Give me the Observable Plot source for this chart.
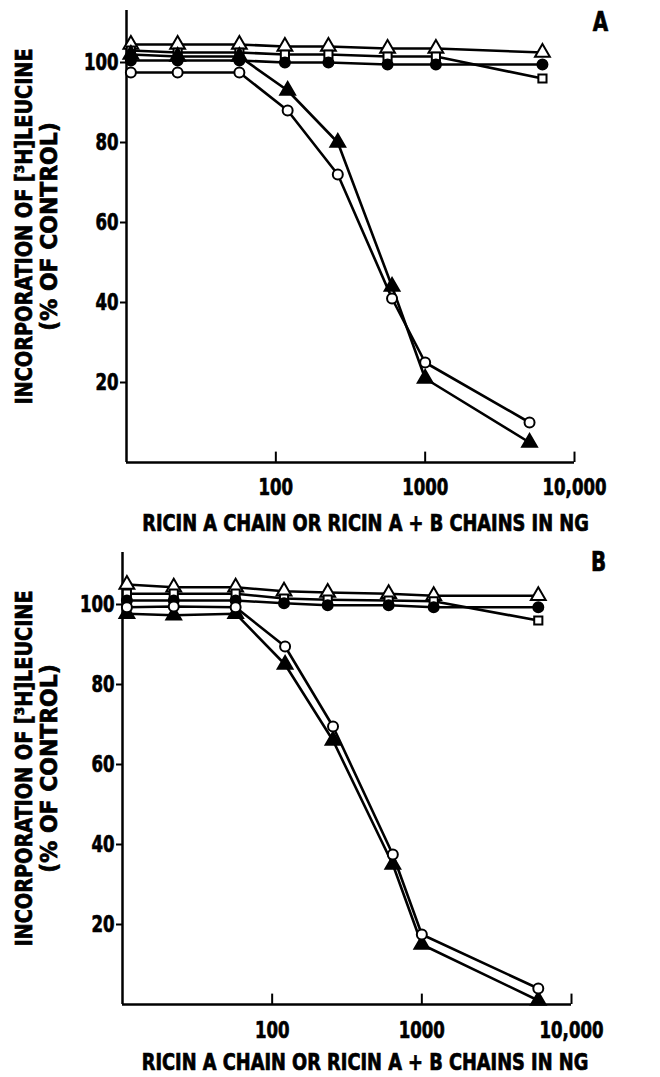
<!DOCTYPE html>
<html><head><meta charset="utf-8">
<script src="https://cdn.jsdelivr.net/npm/d3@7"></script>
<script src="https://cdn.jsdelivr.net/npm/@observablehq/plot@0.6"></script>
<style>
body{margin:0;background:#fff;}
#chart{width:660px;}
svg{display:block}
</style></head><body><div id="chart"></div>
<script>
// Tick labels and titles
const xTicks = [100, 1000, 10000];
const xTickLabels = ["100", "1000", "10,000"];
const yTicks = [20, 40, 60, 80, 100];
const xTitle = "RICIN A CHAIN OR RICIN A + B CHAINS IN NG";
const yTitle1 = "INCORPORATION OF [³H]LEUCINE";
const yTitle2 = "(% OF CONTROL)";
const panelNames = ["A", "B"];

// Panel A doses (ng) as plotted
const doseFlatA  = [10.7, 22, 57, 115, 225, 560, 1180, 6100];
const doseCurveA = [10.7, 22, 57, 120, 260, 600, 1000, 5000];
// Panel A values (% of control)
const openTriA    = [104.5, 104.5, 104.5, 104, 104, 103.5, 103.5, 102.5];
const openSqA     = [103, 102.5, 102.5, 102, 102, 101.5, 101.5, 96];
const filledCircA = [100.5, 100.5, 100.5, 100, 100, 99.5, 99.5, 99.5];
const filledTriA  = [102, 101.5, 101.5, 93, 80, 44, 21, 5];
const openCircA   = [97.5, 97.5, 97.5, 88, 72, 41, 25, 10];

// Panel B doses (ng) as plotted
const doseFlatB  = [10.7, 22, 57, 120, 235, 600, 1200, 6000];
const doseCurveB = [10.7, 22, 57, 122, 255, 640, 1000, 6000];
// Panel B values (% of control)
const openTriB    = [105, 104.3, 104.3, 103.3, 103, 102.7, 102.2, 102.2];
const openSqB     = [102.7, 102.7, 102.7, 101.5, 101.2, 101, 100.8, 96];
const filledCircB = [101, 101, 101, 100.3, 99.8, 99.8, 99.3, 99.3];
const openCircB   = [99.3, 99.5, 99.3, 89.5, 69.5, 37.5, 17.5, 4];
const filledTriB  = [97.7, 97.3, 97.7, 85, 66, 35, 15, 1];

const seriesStyle = {
  openTri:    {symbol: "triangle", fill: "white", r: 5.5},
  openSq:     {symbol: "square",   fill: "white", r: 4.6},
  filledCirc: {symbol: "circle",   fill: "black", r: 5},
  filledTri:  {symbol: "triangle", fill: "black", r: 5.5},
  openCirc:   {symbol: "circle",   fill: "white", r: 5}
};

function rowsFor(doses, vals, key) {
  return doses.map((d, i) => ({x: d, y: vals[i], s: key}));
}

const dataA = [
  ...rowsFor(doseFlatA, openTriA, "openTri"),
  ...rowsFor(doseFlatA, openSqA, "openSq"),
  ...rowsFor(doseFlatA, filledCircA, "filledCirc"),
  ...rowsFor(doseCurveA, filledTriA, "filledTri"),
  ...rowsFor(doseCurveA, openCircA, "openCirc")
];
const dataB = [
  ...rowsFor(doseFlatB, openTriB, "openTri"),
  ...rowsFor(doseFlatB, openSqB, "openSq"),
  ...rowsFor(doseFlatB, filledCircB, "filledCirc"),
  ...rowsFor(doseCurveB, filledTriB, "filledTri"),
  ...rowsFor(doseCurveB, openCircB, "openCirc")
];

const FONT = "'DejaVu Sans Condensed', 'DejaVu Sans', sans-serif";

function panel(name, data, o) {
  const dotMarks = Object.entries(seriesStyle).map(([key, st]) =>
    Plot.dot(data.filter(d => d.s === key), {
      x: "x", y: "y", symbol: st.symbol, r: st.r,
      fill: st.fill, stroke: "black", strokeWidth: 2
    })
  );
  const tf = {fontWeight: "bold", fontFamily: FONT, fill: "black"};
  return Plot.plot({
    width: 660, height: o.H,
    marginTop: o.mt, marginBottom: o.mb, marginLeft: o.ml, marginRight: o.mr,
    x: {type: "log", domain: [10, 10000]},
    y: {domain: [0, 113]},
    style: {fontFamily: FONT, fontWeight: "bold", fontSize: "23px", color: "black", background: "white"},
    marks: [
      Plot.ruleY([0], {stroke: "black", strokeWidth: 2.5}),
      Plot.ruleX([10], {y1: 0, y2: 113, stroke: "black", strokeWidth: 2.5}),
      Plot.ruleX(xTicks, {y1: 0, y2: 2.6, stroke: "black", strokeWidth: 2}),
      Plot.axisX({ticks: xTicks, tickFormat: d => xTickLabels[xTicks.indexOf(d)], tickSize: 0, tickPadding: o.xpad, label: null,
        fontSize: 23, ...tf}),
      Plot.axisY({ticks: yTicks, tickSize: 6, tickPadding: 2, label: null, strokeWidth: 2,
        fontSize: 23, ...tf}),
      Plot.text([xTitle], {frameAnchor: "bottom", lineAnchor: "middle", textAnchor: "middle", dx: o.tdx, dy: o.tdy,
        fontSize: 23, ...tf}),
      Plot.text([yTitle1], {frameAnchor: "left", textAnchor: "middle", lineAnchor: "middle", rotate: -90, dx: o.y1dx, dy: o.ydy,
        fontSize: 23, ...tf}),
      Plot.text([yTitle2], {frameAnchor: "left", textAnchor: "middle", lineAnchor: "middle", rotate: -90, dx: o.y2dx, dy: o.ydy,
        fontSize: 23, ...tf}),
      Plot.text([name], {frameAnchor: "top-right", textAnchor: "middle", lineAnchor: "middle", dx: o.ndx, dy: o.ndy,
        fontSize: 27, ...tf}),
      Plot.line(data, {x: "x", y: "y", z: "s", stroke: "black", strokeWidth: 2.6}),
      ...dotMarks
    ]
  });
}

// Narrow the glyphs to mimic the condensed heavy type of the original
function squeeze(svg) {
  const scaleFor = (s) => {
    if (s === xTitle) return 0.86;
    if (s === yTitle1) return 0.93;
    if (s === yTitle2) return 1.06;
    if (panelNames.includes(s)) return 0.82;
    return 0.8; // tick labels
  };
  svg.querySelectorAll("text").forEach(t => {
    const sx = scaleFor(t.textContent);
    const tr = t.getAttribute("transform") || "";
    t.setAttribute("transform", (tr + ` scale(${sx},1)`).trim());
    t.setAttribute("fill", "black");
    t.setAttribute("stroke", "black");
    t.setAttribute("stroke-width", "0.7");
    t.setAttribute("paint-order", "normal");
  });
  return svg;
}

const chart = document.getElementById("chart");
chart.append(squeeze(panel(panelNames[0], dataA, {H: 540, mt: 10, mb: 78, ml: 126, mr: 86, xpad: 16, tdx: 15, tdy: 61, y1dx: -102, y2dx: -77, ydy: -10, ndx: 26, ndy: 12})));
chart.append(squeeze(panel(panelNames[1], dataB, {H: 537, mt: 12, mb: 73, ml: 122, mr: 89, xpad: 17, tdx: 18, tdy: 58, y1dx: -98, y2dx: -73, ydy: -10, ndx: 27, ndy: 10})));
</script></body></html>
